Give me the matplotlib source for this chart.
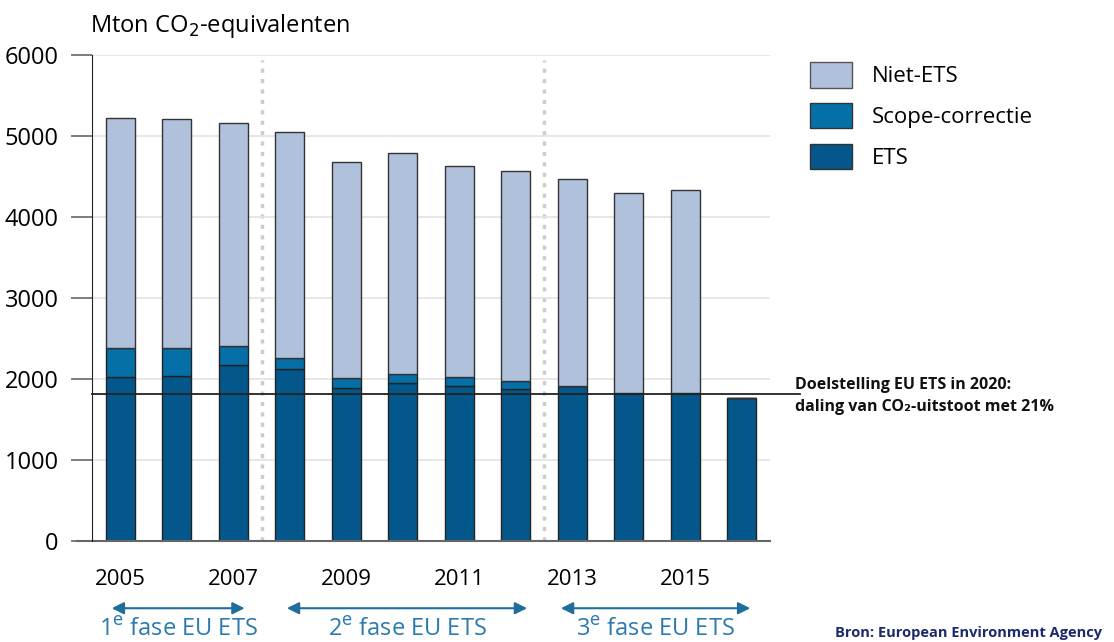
import numpy as np
import matplotlib.pyplot as plt
from matplotlib.patches import Patch

plt.rcParams['font.family'] = ['Open Sans', 'DejaVu Sans']

jaren = [2005, 2006, 2007, 2008, 2009, 2010, 2011, 2012, 2013, 2014, 2015, 2016]
ets = [2020, 2040, 2175, 2125, 1885, 1950, 1915, 1875, 1915, 1830, 1825, 1760]
scope = [360, 345, 235, 140, 130, 115, 105, 105, 0, 0, 0, 0]
totaal = [5220, 5210, 5160, 5050, 4680, 4790, 4630, 4570, 4470, 4295, 4330, 1760]
niet_ets = [t - e - s for t, e, s in zip(totaal, ets, scope)]

doel = 1820
fase_grenzen = [2007.5, 2012.5]
xlabels = [2005, 2007, 2009, 2011, 2013, 2015]
fases = [("1", 2004.8, 2007.25), ("2", 2007.9, 2012.25), ("3", 2012.75, 2016.2)]

kl_niet = '#b0c1dc'
kl_scope = '#0570a8'
kl_ets = '#03578a'

fig = plt.figure(figsize=(11.14, 6.42), dpi=100)
ax = fig.add_axes([92 / 1114, 1 - 541 / 642, (770 - 92) / 1114, (541 - 55) / 642])

x = np.array(jaren)
b = 0.51
ax.bar(x, ets, b, color=kl_ets, edgecolor='#222222', linewidth=1, zorder=3)
ax.bar(x, scope, b, bottom=ets, color=kl_scope, edgecolor='#222222', linewidth=1, zorder=3)
onder = np.array(ets) + np.array(scope)
ax.bar(x, niet_ets, b, bottom=onder, color=kl_niet, edgecolor='#333333', linewidth=1, zorder=3)

ax.set_xlim(2004.5, 2016.5)
ax.set_ylim(0, 6000)
ax.set_yticks(range(0, 6001, 1000))
ax.grid(axis='y', color='#e3e3e3', linewidth=1.2, zorder=0)
ax.set_xticks([])
ax.tick_params(axis='y', length=15, width=1.2, color='#666666', labelsize=17, pad=9)

for s in ['top', 'right', 'bottom']:
    ax.spines[s].set_visible(False)
ax.spines['left'].set_color('#222222')
ax.spines['left'].set_zorder(4)
ax.axhline(0, xmin=-0.022, xmax=1, color='#666666', linewidth=1.5, clip_on=False, zorder=4)

for g in fase_grenzen:
    ax.axvline(g, ymin=0, ymax=0.99, color='#cccccc', linestyle=(0, (1.2, 1.8)), linewidth=2.5, zorder=1)

ax.axhline(doel, xmin=0, xmax=(800 - 92) / (770 - 92), color='#222222', linewidth=1.3, clip_on=False, zorder=5)

ax.text(-0.003, 1.03, 'Mton CO$_2$-equivalenten', transform=ax.transAxes, fontsize=17, ha='left', va='bottom')

for j in xlabels:
    ax.text(j, -470, str(j), ha='center', va='center', fontsize=16)

for n, x0, x1 in fases:
    ax.annotate('', xy=(x0, -830), xytext=(x1, -830), annotation_clip=False,
                arrowprops=dict(arrowstyle='<|-|>', color='#1f6e9c', lw=1.5, mutation_scale=18))
    ax.text((x0 + x1) / 2, -1100, n + '$^{\\mathrm{e}}$ fase EU ETS', ha='center', va='center',
            fontsize=17, color='#2a7ab0')

fig.text(795 / 1114, 1 - 396 / 642, 'Doelstelling EU ETS in 2020:\ndaling van CO₂-uitstoot met 21%',
         fontsize=11.5, fontweight='bold', ha='left', va='center', linespacing=1.45, color='#111111')

fig.text(835 / 1114, 1 - 633 / 642, 'Bron: European Environment Agency', fontsize=10.5,
         fontweight='bold', color='#1a2a6a', ha='left', va='center')

handles = [Patch(facecolor=kl_niet, edgecolor='#555555', label='Niet-ETS'),
           Patch(facecolor=kl_scope, edgecolor='#333333', label='Scope-correctie'),
           Patch(facecolor=kl_ets, edgecolor='#333333', label='ETS')]
fig.legend(handles=handles, loc='upper left', bbox_to_anchor=(790 / 1114, 1 - 42 / 642), frameon=False,
           fontsize=16, handlelength=1.9, handleheight=1.4, labelspacing=0.68, handletextpad=0.9)

fig.savefig('out.png', dpi=100)
